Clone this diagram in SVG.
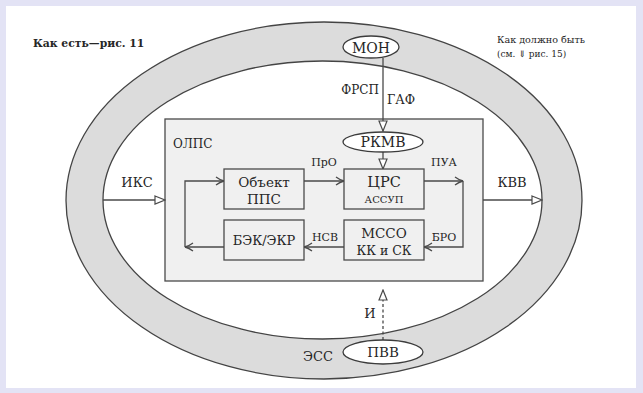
<svg xmlns="http://www.w3.org/2000/svg" width="643" height="393" viewBox="0 0 643 393">
<style>
.t{font-family:'DejaVu Serif','Liberation Serif',serif;fill:#262626}
.ln{stroke:#4a4a4a;stroke-width:1.3;fill:none}
.box{fill:#f0f0f0;stroke:#4a4a4a;stroke-width:1.3}
.ell{fill:#ffffff;stroke:#3c3c3c;stroke-width:1.3}
.c{text-anchor:middle}
</style>
<defs>
<marker id="tri" viewBox="0 0 12 10" refX="11" refY="5" markerWidth="12" markerHeight="10" markerUnits="userSpaceOnUse" orient="auto">
<path d="M1,1 L11,5 L1,9 Z" fill="#ffffff" stroke="#4a4a4a" stroke-width="1.2"/>
</marker>
<marker id="to" viewBox="0 0 10 10" refX="9" refY="5" markerWidth="10" markerHeight="10" markerUnits="userSpaceOnUse" orient="auto">
<path d="M1,1 Q5,4 9,5 Q5,6 1,9" fill="none" stroke="#4a4a4a" stroke-width="1.3"/>
</marker>
</defs>
<rect x="0" y="0" width="643" height="393" fill="#e3e3f5"/>
<rect x="6" y="6" width="630" height="382" fill="#ffffff"/>

<g id="ring">
<ellipse cx="324" cy="200.5" rx="258" ry="178.5" fill="#dcdcdc" stroke="#444" stroke-width="1.3"/>
<ellipse cx="322.5" cy="200" rx="219.5" ry="139" fill="#ffffff" stroke="#444" stroke-width="1.3"/>
</g>

<text class="t" x="33" y="47" font-size="10.8" font-weight="bold">Как есть—рис. 11</text>
<text class="t" x="497" y="43" font-size="9.6">Как должно быть</text>
<text class="t" x="497" y="57" font-size="9">(см. ⇓ рис. 15)</text>

<g id="olps">
<rect x="165" y="119" width="318" height="162" class="box" fill="#f3f3f3"/>
<text class="t" x="173" y="148" font-size="12">ОЛПС</text>
</g>

<g id="connectors">
<line class="ln" x1="383" y1="58" x2="383" y2="131" marker-end="url(#tri)"/>
<line class="ln" x1="383" y1="152" x2="383" y2="169" marker-end="url(#tri)"/>
<line class="ln" x1="103" y1="200" x2="165" y2="200" marker-end="url(#tri)"/>
<line class="ln" x1="483" y1="200" x2="542" y2="200" marker-end="url(#tri)"/>
<line class="ln" x1="383" y1="340" x2="383" y2="290" stroke-dasharray="3,2.5" marker-end="url(#tri)"/>
<line class="ln" x1="304" y1="181" x2="344" y2="181" marker-end="url(#to)"/>
<line class="ln" x1="424" y1="181" x2="463" y2="181" marker-end="url(#to)"/>
<polyline class="ln" points="463,181 463,247 424,247" marker-end="url(#to)"/>
<line class="ln" x1="344" y1="247" x2="304" y2="247" marker-end="url(#to)"/>
<line class="ln" x1="224" y1="247" x2="185" y2="247" marker-end="url(#to)"/>
<polyline class="ln" points="185,247 185,181 224,181" marker-end="url(#to)"/>
<text class="t" x="379" y="94" font-size="12" text-anchor="end">ФРСП</text>
<text class="t" x="387" y="104" font-size="12.5">ГАФ</text>
<text class="t c" x="137" y="187" font-size="13">ИКС</text>
<text class="t c" x="512" y="187" font-size="13">КВВ</text>
<text class="t c" x="324" y="166" font-size="11">ПрО</text>
<text class="t c" x="444" y="166" font-size="11">ПУА</text>
<text class="t c" x="325" y="241" font-size="11">НСВ</text>
<text class="t c" x="444" y="241" font-size="11">БРО</text>
<text class="t c" x="370" y="318" font-size="13">И</text>
<text class="t c" x="318" y="361" font-size="13">ЭСС</text>
</g>

<g id="mon">
<ellipse cx="371" cy="47" rx="28" ry="11" class="ell"/>
<text class="t c" x="371" y="52.5" font-size="14">МОН</text>
</g>
<g id="rkmv">
<ellipse cx="383" cy="142" rx="40" ry="10" class="ell"/>
<text class="t c" x="383" y="147" font-size="14">РКМВ</text>
</g>
<g id="pvv">
<ellipse cx="383" cy="352" rx="40" ry="12" class="ell"/>
<text class="t c" x="383" y="357" font-size="13.5">ПВВ</text>
</g>
<g id="obekt">
<rect x="224" y="169" width="80" height="40" class="box"/>
<text class="t c" x="264" y="187" font-size="13.5">Объект</text>
<text class="t c" x="264" y="204" font-size="13.5">ППС</text>
</g>
<g id="crs">
<rect x="344" y="169" width="80" height="40" class="box"/>
<text class="t c" x="384" y="187" font-size="14.5">ЦРС</text>
<text class="t c" x="384" y="203" font-size="10">АССУП</text>
</g>
<g id="bek">
<rect x="224" y="220" width="80" height="40" class="box"/>
<text class="t c" x="264" y="245" font-size="13">БЭК/ЭКР</text>
</g>
<g id="msso">
<rect x="344" y="220" width="80" height="40" class="box"/>
<text class="t c" x="384" y="238" font-size="13.5">МССО</text>
<text class="t c" x="384" y="255" font-size="12.5">КК и СК</text>
</g>
</svg>
